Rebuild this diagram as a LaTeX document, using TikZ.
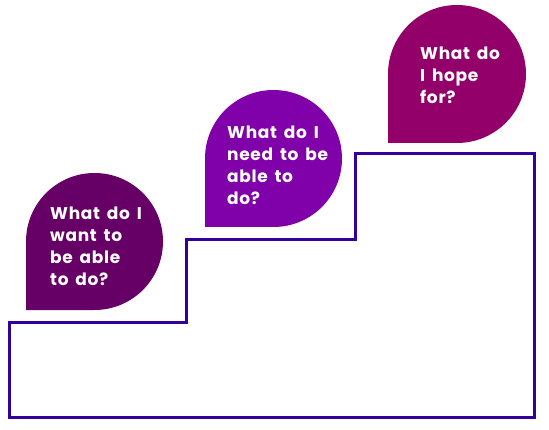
\documentclass[tikz,border=0pt]{standalone}
\usepackage{fontspec}
\newfontfamily\bubblefont{Poppins}[LetterSpace=4,WordSpace=1.6]
\definecolor{stairc}{HTML}{330099}
\definecolor{bubA}{HTML}{660066}
\definecolor{bubB}{HTML}{8000AA}
\definecolor{bubC}{HTML}{930069}
\tikzset{
  stair/.style={draw=stairc, line width=3pt, line join=miter},
  btext/.style={anchor=base west, inner sep=0pt, text=white, font=\bubblefont\bfseries\fontsize{17}{22}\selectfont}
}
\newcommand{\blines}[1]{\vtop{\baselineskip=22pt\halign{##\hfil\cr#1\crcr}}}
\begin{document}
\begin{tikzpicture}[x=1pt,y=1pt]
\useasboundingbox (0,0) rectangle (549,429);
% stairs
\draw[stair] (9,106.3) -- (186,106.3) -- (186,189) -- (355,189) -- (355,275) -- (534,275) -- (534,12) -- (9,12) -- cycle;
% bubbles
\fill[bubA] (26,119) -- (26,187.5) arc[start angle=180, end angle=-90, radius=68.5] -- cycle;
\fill[bubB] (205,202) -- (205,270.5) arc[start angle=180, end angle=-90, radius=68.5] -- cycle;
\fill[bubC] (388,286) -- (388,355) arc[start angle=180, end angle=-90, radius=69] -- cycle;
% texts
\node[btext] (t1) at (50,209) {\blines{What do I\cr want to\cr be able\cr to do?}};
\node[btext] (t2) at (227,290) {\blines{What do I\cr need to be\cr able to\cr do?}};
\node[btext] (t3) at (420,369) {\blines{What do\cr I hope\cr for?}};
\end{tikzpicture}
\end{document}
